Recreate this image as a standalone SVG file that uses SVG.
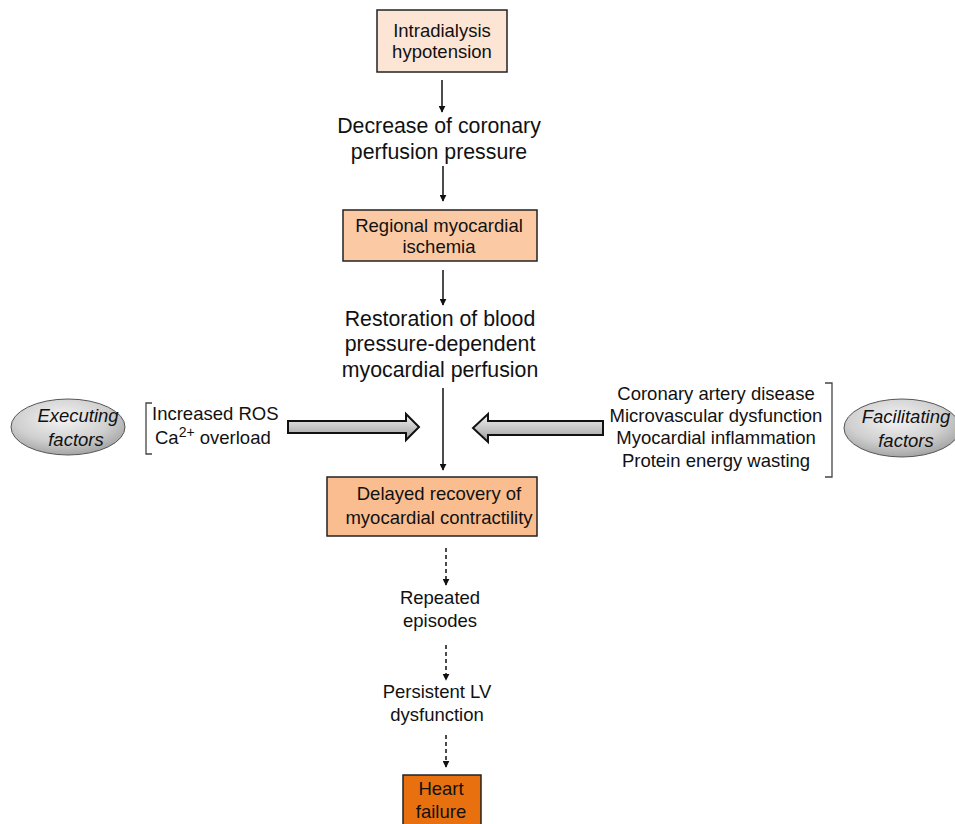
<svg xmlns="http://www.w3.org/2000/svg" width="955" height="824" viewBox="0 0 955 824">
<defs>
<style>
text{font-family:"Liberation Sans",Arial,sans-serif;fill:#111;text-anchor:middle}
.s{font-size:18.5px}
.m{font-size:21.3px}
.i{font-size:18.5px;font-style:italic}
.l{text-anchor:start}
.box{stroke:#222;stroke-width:1.5}
.ln{stroke:#111;stroke-width:1.5;fill:none}
.d{stroke-dasharray:4 3}
.br{stroke:#444;stroke-width:1.3;fill:none}
.ba{stroke:#111;stroke-width:2;fill:url(#ag)}
</style>
<linearGradient id="ag" x1="0" y1="0" x2="0" y2="1">
<stop offset="0" stop-color="#f2f2f2"/><stop offset="0.5" stop-color="#c8c8c8"/><stop offset="1" stop-color="#9a9a9a"/>
</linearGradient>
<radialGradient id="eg" cx="0.45" cy="0.35" r="0.7">
<stop offset="0" stop-color="#f4f4f4"/><stop offset="0.6" stop-color="#cfcfcf"/><stop offset="1" stop-color="#9c9c9c"/>
</radialGradient>
<marker id="ah" viewBox="0 0 10 10" refX="9" refY="5" markerWidth="7" markerHeight="7" markerUnits="userSpaceOnUse" orient="auto">
<path d="M0,0 L10,5 L0,10 z" fill="#111"/>
</marker>
</defs>

<g id="connectors">
<line class="ln" x1="442" y1="80" x2="442" y2="112" marker-end="url(#ah)"/>
<line class="ln" x1="443" y1="166" x2="443" y2="201" marker-end="url(#ah)"/>
<line class="ln" x1="443" y1="270" x2="443" y2="305" marker-end="url(#ah)"/>
<line class="ln" x1="443" y1="388" x2="443" y2="470" marker-end="url(#ah)"/>
<line class="ln d" x1="446" y1="548" x2="446" y2="585" marker-end="url(#ah)"/>
<line class="ln d" x1="446" y1="645" x2="446" y2="680" marker-end="url(#ah)"/>
<line class="ln d" x1="446" y1="735" x2="446" y2="767" marker-end="url(#ah)"/>
<path class="ba" d="M288,421 L406,421 L406,414 L419,427 L406,440 L406,433 L288,433 z"/>
<path class="ba" d="M603,421 L488,421 L488,414 L473,428 L488,442 L488,435 L603,435 z"/>
</g>

<g id="n1">
<rect class="box" x="377" y="10" width="130" height="62" fill="#fde5d5"/>
<text class="s" x="442" y="37">Intradialysis</text>
<text class="s" x="442" y="58">hypotension</text>
</g>

<g id="n2">
<text class="m" x="439" y="133">Decrease of coronary</text>
<text class="m" x="439" y="159">perfusion pressure</text>
</g>

<g id="n3">
<rect class="box" x="343" y="210" width="194" height="51" fill="#fbcaa4"/>
<text class="s" x="439" y="232">Regional myocardial</text>
<text class="s" x="439" y="253">ischemia</text>
</g>

<g id="n4">
<text class="m" x="440" y="326">Restoration of blood</text>
<text class="m" x="440" y="351">pressure-dependent</text>
<text class="m" x="440" y="377">myocardial perfusion</text>
</g>

<g id="n5">
<rect class="box" x="327" y="477" width="210" height="59" fill="#f9bd8f"/>
<text class="s" x="439" y="500">Delayed recovery of</text>
<text class="s" x="439" y="524">myocardial contractility</text>
</g>

<g id="n6">
<text class="s" x="440" y="604">Repeated</text>
<text class="s" x="440" y="627">episodes</text>
</g>

<g id="n7">
<text class="s" x="437" y="698">Persistent LV</text>
<text class="s" x="437" y="721">dysfunction</text>
</g>

<g id="n8">
<rect class="box" x="403" y="775" width="78" height="55" fill="#e8700f"/>
<text class="s" x="441" y="795">Heart</text>
<text class="s" x="441" y="818">failure</text>
</g>

<g id="executing">
<ellipse cx="68" cy="427" rx="57" ry="28" fill="url(#eg)" stroke="#555" stroke-width="1"/>
<text class="i" x="78" y="422">Executing</text>
<text class="i" x="76" y="446">factors</text>
</g>

<g id="exec-list">
<path class="br" d="M152,403 L146,403 L146,454 L152,454"/>
<text class="s l" x="152" y="420">Increased ROS</text>
<text class="s l" x="155" y="444">Ca<tspan font-size="14" dy="-7">2+</tspan><tspan dy="7"> overload</tspan></text>
</g>

<g id="fac-list">
<text class="s" x="716" y="400">Coronary artery disease</text>
<text class="s" x="716" y="422">Microvascular dysfunction</text>
<text class="s" x="716" y="444">Myocardial inflammation</text>
<text class="s" x="716" y="467">Protein energy wasting</text>
<path class="br" d="M825,383 L832,383 L832,477 L825,477"/>
</g>

<g id="facilitating">
<ellipse cx="902" cy="428" rx="58" ry="29" fill="url(#eg)" stroke="#555" stroke-width="1"/>
<text class="i" x="906" y="423">Facilitating</text>
<text class="i" x="906" y="447">factors</text>
</g>
</svg>
